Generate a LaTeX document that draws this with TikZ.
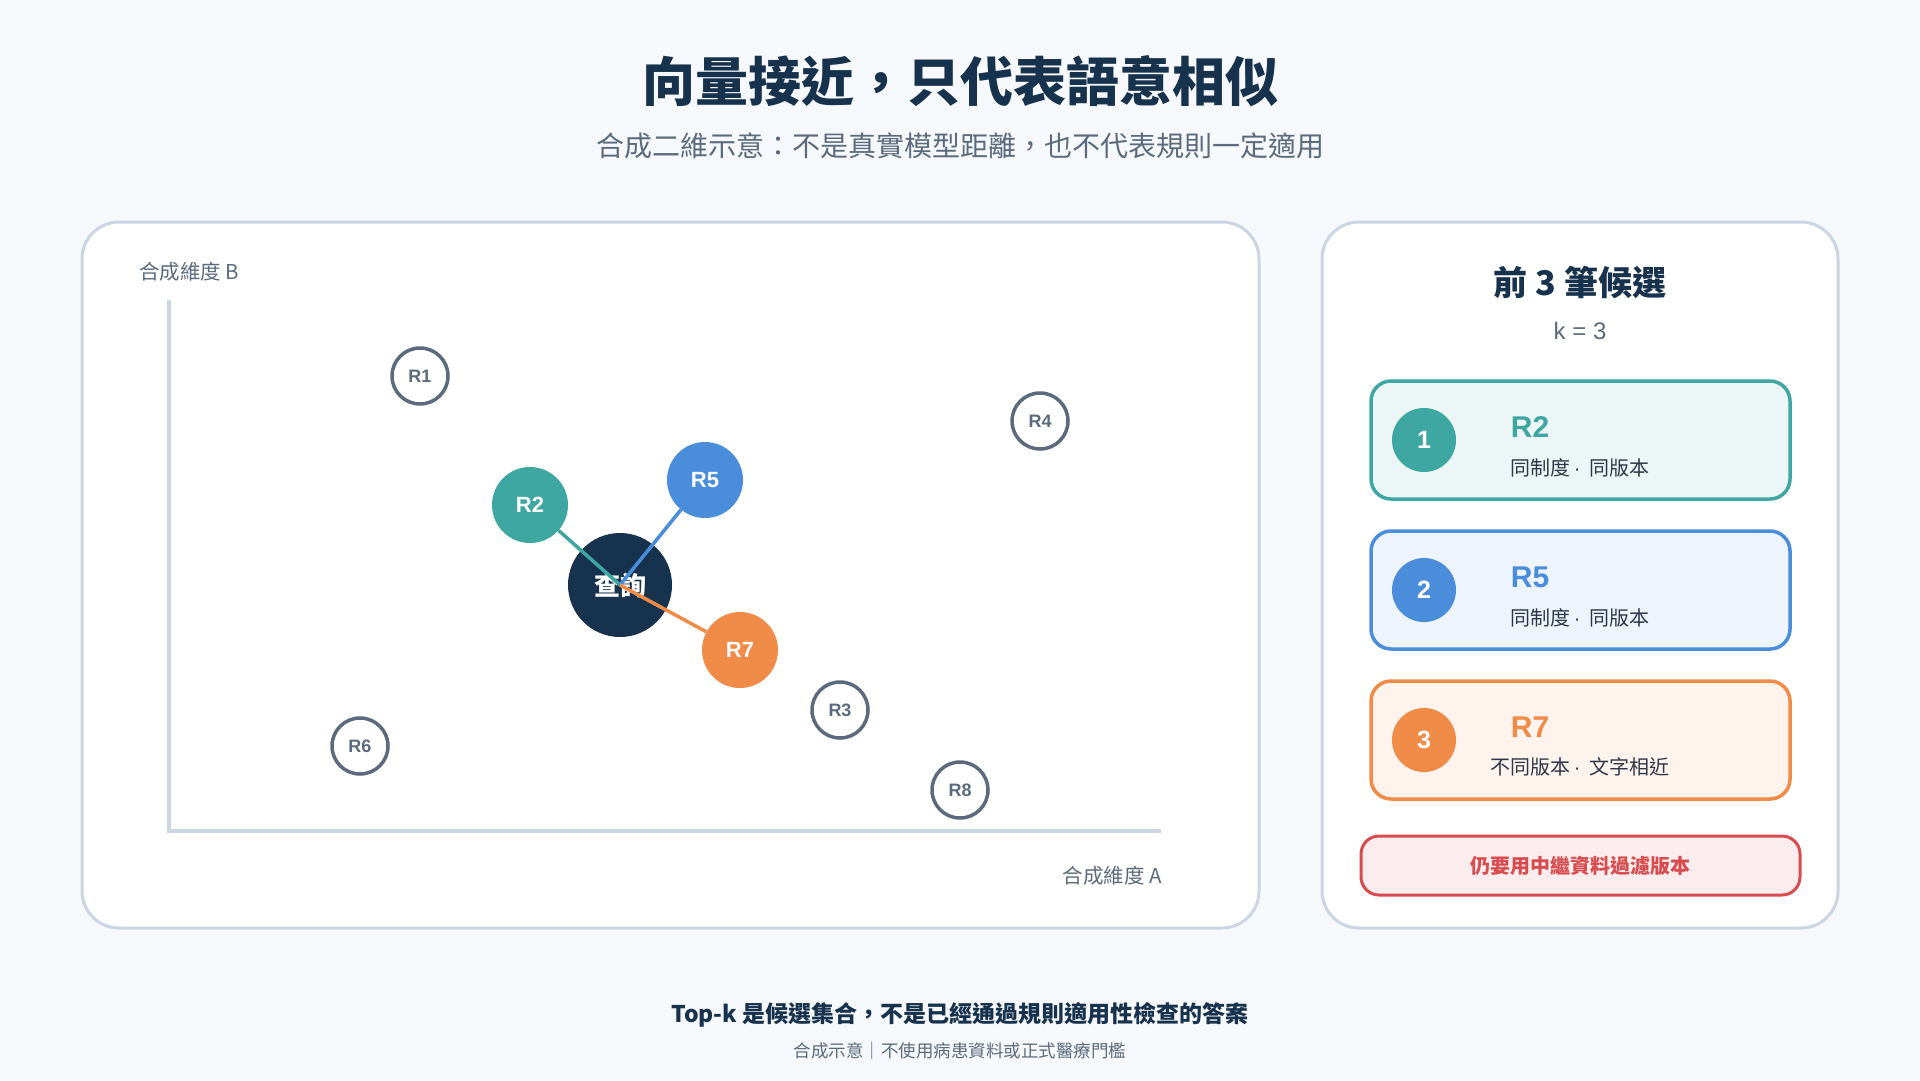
\documentclass[tikz,border=0pt]{standalone}
\usepackage{fontspec}
\setmainfont{Liberation Sans}
\newfontfamily\cjk{Noto Sans CJK TC}
\definecolor{navy}{HTML}{17324D}
\definecolor{slate}{HTML}{5B6B7D}
\definecolor{inkdark}{HTML}{2D3748}
\definecolor{panelline}{HTML}{CBD5E3}
\definecolor{pagebg}{HTML}{F6F8FB}
\definecolor{hitteal}{HTML}{3EA7A1}
\definecolor{hitblue}{HTML}{4A8DDB}
\definecolor{hitorange}{HTML}{F08B48}
\definecolor{warnred}{HTML}{D84B4E}
\newcommand{\fs}[1]{\fontsize{#1}{#1}\selectfont}
\newcommand{\sepdot}{{\rmfamily\,·}\ \ }

\begin{document}
\begin{tikzpicture}[x=1pt,y=-1pt,
      every node/.style={inner sep=0pt,align=center},
      panel/.style={draw=panelline,line width=3pt,fill=white,rounded corners=37pt},
      axis/.style={draw=panelline,line width=3.5pt},
      axislbl/.style={text=slate,font=\cjk\fs{20.5}},
      doc/.style={shape=circle,draw=slate,line width=3.5pt,fill=white,minimum size=56pt,
        text=slate,font=\bfseries\fs{18}},
      hit/.style={shape=circle,fill=#1,minimum size=76pt,text=white,font=\bfseries\fs{22}},
      query/.style={shape=circle,fill=navy,minimum size=104pt,text=white,font=\cjk\bfseries\fs{26}},
      link/.style={draw=#1,line width=3.5pt},
      card/.style={shape=rectangle,draw=#1,fill=#1!10,line width=3.5pt,rounded corners=20pt,
        minimum width=419pt,minimum height=118pt},
      badge/.style={shape=circle,fill=#1,minimum size=64pt,text=white,font=\bfseries\fs{25}},
      hitname/.style={text=#1,font=\bfseries\fs{30}},
      hitnote/.style={text=inkdark,font=\cjk\fs{20}}]
  \fill[pagebg] (0,0) rectangle (1920,1080);

  \node[text=navy,font=\cjk\bfseries\fs{53}] (ttl) at (960,81) {向量接近，只代表語意相似};
  \node[text=slate,font=\cjk\fs{28}] (sub) at (960,146) {合成二維示意：不是真實模型距離，也不代表規則一定適用};

  \draw[panel] (82,222) rectangle (1259,928);
  \draw[panel] (1322,222) rectangle (1838,928);

  \coordinate (ytop) at (169,300);
  \coordinate (orig) at (169,831);
  \coordinate (xend) at (1161,831);
  \draw[axis] (ytop) -- (orig) -- (xend);
  \node[axislbl,anchor=west] (lblB) at (139,272) {合成維度 B};
  \node[axislbl,anchor=east] (lblA) at (1162,876) {合成維度 A};

  \node[doc] (r1) at (420,376) {R1};
  \node[doc] (r4) at (1040,421) {R4};
  \node[doc] (r3) at (840,710) {R3};
  \node[doc] (r8) at (960,790) {R8};
  \node[doc] (r6) at (360,746) {R6};
  \node[query] (q) at (620,585) {查詢};
  \node[hit=hitteal] (r2) at (530,505) {R2};
  \node[hit=hitblue] (r5) at (705,480) {R5};
  \node[hit=hitorange] (r7) at (740,650) {R7};
  \draw[link=hitteal] (q.center) -- (r2);
  \draw[link=hitblue] (q.center) -- (r5);
  \draw[link=hitorange] (q.center) -- (r7);

  \node[text=navy,font=\cjk\bfseries\fs{34}] (topk) at (1580,282) {前 3 筆候選};
  \node[text=slate,font=\fs{24}] (kval) at (1580,331) {k = 3};

  \node[card=hitteal] (c1) at (1580.5,440) {};
  \node[badge=hitteal] (b1) at (1424,440) {1};
  \node[hitname=hitteal] (n1) at (1530,427) {R2};
  \node[hitnote] (d1) at (1580,468) {同制度\sepdot 同版本};

  \node[card=hitblue] (c2) at (1580.5,590) {};
  \node[badge=hitblue] (b2) at (1424,590) {2};
  \node[hitname=hitblue] (n2) at (1530,577) {R5};
  \node[hitnote] (d2) at (1580,618) {同制度\sepdot 同版本};

  \node[card=hitorange] (c3) at (1580.5,740) {};
  \node[badge=hitorange] (b3) at (1424,740) {3};
  \node[hitname=hitorange] (n3) at (1530,727) {R7};
  \node[hitnote] (d3) at (1580,767) {不同版本\sepdot 文字相近};

  \node[shape=rectangle,draw=warnred,fill=warnred!10,line width=3pt,rounded corners=18pt,
    minimum width=439pt,minimum height=59pt,text=warnred,font=\cjk\bfseries\fs{20}]
    (warn) at (1580.5,865.5) {仍要用中繼資料過濾版本};

  \node[text=navy,font=\cjk\bfseries\fs{23}] (note) at (960,1015) {Top-k 是候選集合，不是已經通過規則適用性檢查的答案};
  \node[text=slate,font=\cjk\fs{17.5}] (foot) at (960,1051) {合成示意｜不使用病患資料或正式醫療門檻};
\end{tikzpicture}
\end{document}
